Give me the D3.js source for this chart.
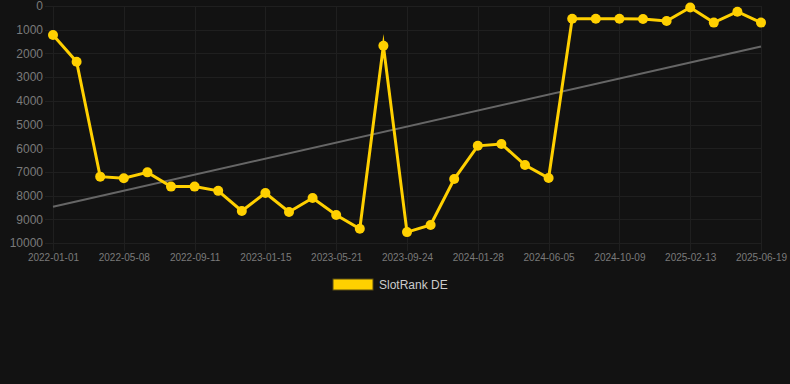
<!DOCTYPE html>
<html>
<head>
<meta charset="utf-8">
<script src="https://cdn.jsdelivr.net/npm/d3@7.9.0/dist/d3.min.js"></script>
<style>
  html, body { margin: 0; padding: 0; background: #121212; }
  svg { display: block; font-family: "Liberation Sans", Arial, sans-serif; }
</style>
</head>
<body>
<svg id="chart" width="790" height="384"></svg>
<script>
// Category labels (only every third one is shown on the axis)
const dates = [
    "2022-01-01", "2022-02-12", "2022-03-26", "2022-05-08", "2022-06-19", "2022-07-31",
    "2022-09-11", "2022-10-23", "2022-12-04", "2023-01-15", "2023-02-26", "2023-04-09",
    "2023-05-21", "2023-07-02", "2023-08-13", "2023-09-24", "2023-11-05", "2023-12-17",
    "2024-01-28", "2024-03-10", "2024-04-23", "2024-06-05", "2024-07-17", "2024-08-28",
    "2024-10-09", "2024-11-20", "2025-01-01", "2025-02-13", "2025-03-27", "2025-05-08",
    "2025-06-19"
];

// SlotRank DE values (lower is better, axis is reversed)
const rankValues = [
    1220, 2350, 7200, 7270, 7020, 7620, 7620, 7800, 8650, 7890, 8690,
    8100, 8820, 9400, 1680, 9540, 9240, 7300, 5900, 5820, 6710, 7260,
    540, 540, 540, 550, 630, 60, 700, 240, 700
];

// Trend line values at the first and last date
const trendValues = [8470, 1710];

const yTicks = [0, 1000, 2000, 3000, 4000, 5000, 6000, 7000, 8000, 9000, 10000];

const seriesName = "SlotRank DE";
const yellow = "#ffd000";

const margin = { top: 6, right: 29, bottom: 141, left: 53 },
      width = 790 - margin.left - margin.right,
      height = 384 - margin.top - margin.bottom;

const svgContainer = d3.select("#chart");

const svg = svgContainer.append("g")
    .attr("transform", `translate(${margin.left},${margin.top})`);

const xScale = d3.scalePoint()
    .domain(dates)
    .range([0, width]);

const yScale = d3.scaleLinear()
    .domain([0, 10000])
    .range([0, height]);

const shownDates = dates.filter((d, i) => i % 3 === 0);

// Horizontal grid
svg.append("g")
    .selectAll("line")
    .data(yTicks)
    .enter()
    .append("line")
    .attr("x1", -8)
    .attr("x2", width)
    .attr("y1", d => Math.round(yScale(d)) + 0.5)
    .attr("y2", d => Math.round(yScale(d)) + 0.5)
    .attr("stroke", "#1f1f1f")
    .attr("stroke-width", 1);

// Vertical grid
svg.append("g")
    .selectAll("line")
    .data(shownDates)
    .enter()
    .append("line")
    .attr("x1", d => Math.round(xScale(d)) + 0.5)
    .attr("x2", d => Math.round(xScale(d)) + 0.5)
    .attr("y1", 0)
    .attr("y2", height + 8)
    .attr("stroke", "#1f1f1f")
    .attr("stroke-width", 1);

// Y-axis labels
const yAxis = svg.append("g")
    .call(d3.axisLeft(yScale).tickValues(yTicks).tickSize(0).tickPadding(10).tickFormat(d3.format("d")));
yAxis.select(".domain").remove();
yAxis.selectAll("text")
    .attr("fill", "#7a7a7a")
    .style("font-size", "12px")
    .style("font-family", "Liberation Sans, Arial, sans-serif");

// X-axis labels
const xAxis = svg.append("g")
    .attr("transform", `translate(0,${height})`)
    .call(d3.axisBottom(xScale).tickValues(shownDates).tickSize(0).tickPadding(11));
xAxis.select(".domain").remove();
xAxis.selectAll("text")
    .attr("fill", "#7a7a7a")
    .style("font-size", "10px")
    .style("font-family", "Liberation Sans, Arial, sans-serif");

// Trend line
svg.append("line")
    .attr("x1", xScale(dates[0]))
    .attr("x2", xScale(dates[dates.length - 1]))
    .attr("y1", yScale(trendValues[0]))
    .attr("y2", yScale(trendValues[1]))
    .attr("stroke", "#666666")
    .attr("stroke-width", 2);

// Rank line
const line = d3.line()
    .x((d, i) => xScale(dates[i]))
    .y(d => yScale(d));

svg.append("path")
    .datum(rankValues)
    .attr("d", line)
    .attr("fill", "none")
    .attr("stroke", yellow)
    .attr("stroke-width", 3)
    .attr("stroke-linejoin", "miter")
    .attr("stroke-miterlimit", 10);

// Points
svg.selectAll("circle")
    .data(rankValues)
    .enter()
    .append("circle")
    .attr("cx", (d, i) => xScale(dates[i]))
    .attr("cy", d => yScale(d))
    .attr("r", 5)
    .attr("fill", yellow);

// Legend
const legend = svgContainer.append("g")
    .attr("transform", "translate(333,279)");

legend.append("rect")
    .attr("x", 0)
    .attr("y", 0)
    .attr("width", 40)
    .attr("height", 11)
    .attr("fill", yellow)
    .attr("stroke", "#5a4d10")
    .attr("stroke-width", 1);

legend.append("text")
    .attr("x", 46)
    .attr("y", 10)
    .attr("fill", "#cccccc")
    .style("font-size", "12px")
    .text(seriesName);
</script>
</body>
</html>
